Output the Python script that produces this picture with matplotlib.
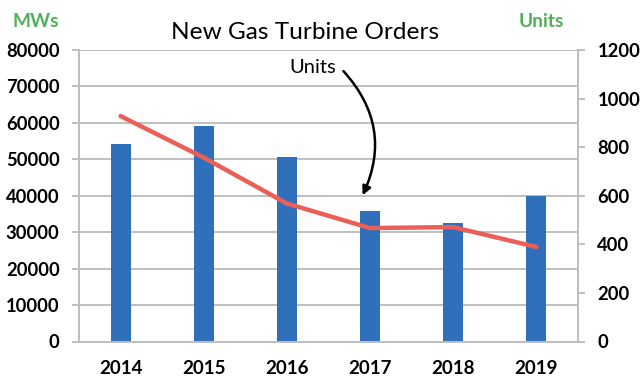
import matplotlib.pyplot as plt
import numpy as np

years = ["2014", "2015", "2016", "2017", "2018", "2019"]
mws = [54200, 59200, 50500, 35700, 32400, 40000]
units = [928, 757, 568, 467, 471, 389]

BAR = "#3070BA"
LINE = "#EB5F57"
GREEN = "#52B05A"
GRID = "#BFBFBF"

plt.rcParams["font.family"] = ["Lato", "DejaVu Sans"]

fig = plt.figure(figsize=(6.44, 3.84), dpi=100)
ax = fig.add_axes([79 / 644, 42.5 / 384, 499 / 644, 291.5 / 384])
ax2 = ax.twinx()

x = np.arange(len(years))
ax.bar(x, mws, width=0.24, color=BAR, zorder=3)
ax.set_xlim(-0.5, len(years) - 0.5)
ax.set_ylim(0, 80000)
ax.set_yticks(np.arange(0, 80001, 10000))
ax.yaxis.grid(True, color=GRID, linewidth=1.4, zorder=0)
ax.set_axisbelow(True)
ax.set_xticks(x)
ax.set_xticklabels(years)

ax2.plot(x, units, color=LINE, linewidth=3.2, solid_capstyle="round", zorder=4)
ax2.set_ylim(0, 1200)
ax2.set_yticks(np.arange(0, 1201, 200))

for a in (ax, ax2):
    for side in ("left", "right", "bottom"):
        a.spines[side].set_color(GRID)
        a.spines[side].set_linewidth(1.4)
    a.spines["top"].set_visible(False)
    a.tick_params(axis="y", colors=GRID, length=5, width=1.4, labelsize=13.2,
                  labelcolor="black", pad=9)
    for lab in a.get_yticklabels():
        lab.set_fontweight("bold")
ax.tick_params(axis="x", length=0, labelsize=13.5, pad=13)
for lab in ax.get_xticklabels():
    lab.set_fontweight("bold")

fig.text(305 / 644, 0.915, "New Gas Turbine Orders", ha="center", va="center", fontsize=17.6)
fig.text(36 / 644, 0.943, "MWs", ha="center", va="center", fontsize=13.8,
         color=GREEN, fontweight="bold")
fig.text(541 / 644, 0.943, "Units", ha="center", va="center", fontsize=13.8,
         color=GREEN, fontweight="bold")

ax2.text(2.31, 1126, "Units", ha="center", va="center", fontsize=14.5)
ax2.annotate("", xy=(2.91, 602), xytext=(2.68, 1113),
             arrowprops=dict(arrowstyle="-|>", color="black", lw=1.8,
                             shrinkA=0, shrinkB=0, mutation_scale=13,
                             connectionstyle="arc3,rad=-0.33"))

fig.savefig("out.png", dpi=100)
